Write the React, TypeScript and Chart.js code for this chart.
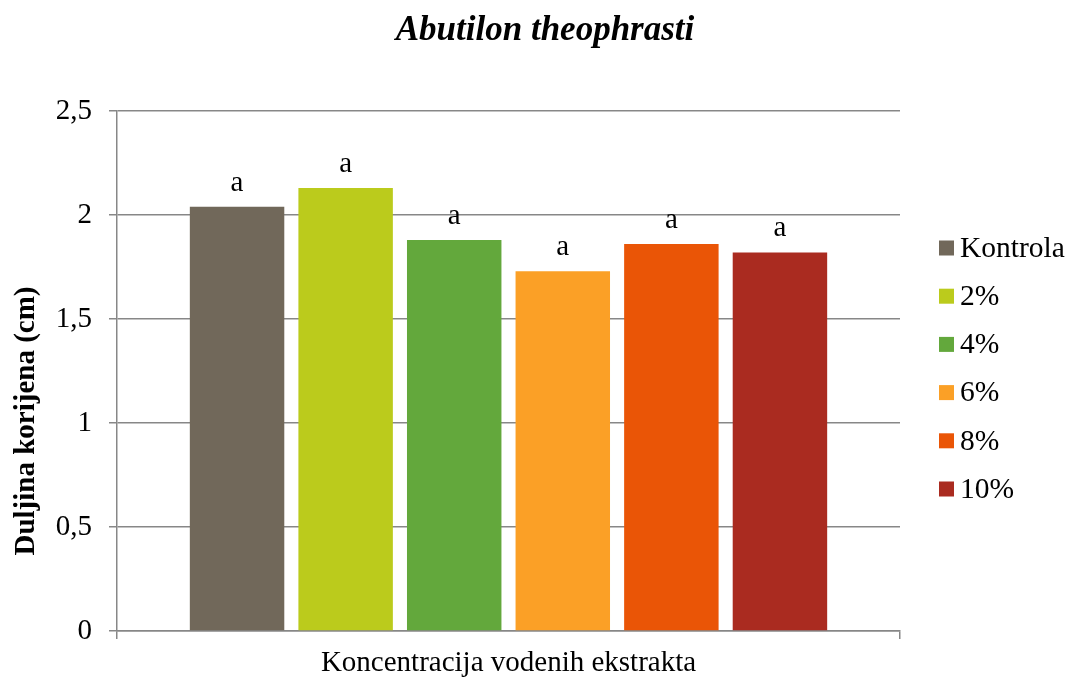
import React, { useEffect, useRef } from 'react';
import { Chart, registerables } from 'chart.js';

Chart.register(...registerables);

const categories: string[] = [''];
const seriesLabels: string[] = ['Kontrola', '2%', '4%', '6%', '8%', '10%'];
const seriesValues: number[] = [2.04, 2.13, 1.88, 1.73, 1.86, 1.82];
const seriesColors: string[] = ['#71685A', '#BBCB1C', '#63A83C', '#FBA026', '#EA5506', '#AA2B20'];
const significanceLetters: string[] = ['a', 'a', 'a', 'a', 'a', 'a'];
const yTickValues: number[] = [0, 0.5, 1, 1.5, 2, 2.5];
const yTickLabels: string[] = ['0', '0,5', '1', '1,5', '2', '2,5'];
const chartTitle = 'Abutilon theophrasti';
const yAxisTitle = 'Duljina korijena (cm)';
const xAxisTitle = 'Koncentracija vodenih ekstrakta';

const FONT = '"Liberation Serif", "Times New Roman", serif';
const GRID = '#878787';

const decorPlugin = {
  id: 'decor',
  afterDraw(chart: any) {
    const ctx = chart.ctx;
    const area = chart.chartArea;
    ctx.save();
    ctx.fillStyle = '#000';
    // title
    ctx.font = `italic bold 35px ${FONT}`;
    ctx.textAlign = 'center';
    ctx.textBaseline = 'alphabetic';
    ctx.fillText(chartTitle, 545, 40);
    // y axis title
    ctx.save();
    ctx.translate(27, 421);
    ctx.rotate(-Math.PI / 2);
    ctx.font = `bold 29px ${FONT}`;
    ctx.textAlign = 'center';
    ctx.textBaseline = 'middle';
    ctx.fillText(yAxisTitle, 0, 0);
    ctx.restore();
    // letters above bars
    ctx.font = `29px ${FONT}`;
    ctx.textAlign = 'center';
    ctx.textBaseline = 'alphabetic';
    chart.data.datasets.forEach((ds: any, i: number) => {
      const meta = chart.getDatasetMeta(i);
      const bar = meta.data[0];
      if (!bar) return;
      ctx.fillText(significanceLetters[i], bar.x, bar.y - 16);
    });
    // legend
    const step = 48.2;
    const centerY = (area.top + area.bottom) / 2 - 2.5;
    const startY = centerY - (step * (chart.data.datasets.length - 1)) / 2;
    ctx.font = `29.5px ${FONT}`;
    ctx.textAlign = 'left';
    ctx.textBaseline = 'middle';
    chart.data.datasets.forEach((ds: any, i: number) => {
      const cy = startY + i * step;
      ctx.fillStyle = ds.backgroundColor;
      ctx.fillRect(area.right + 39, cy - 7.5, 15, 15);
      ctx.fillStyle = '#000';
      ctx.fillText(ds.label, area.right + 60, cy + 1);
    });
    ctx.restore();
  },
};

export default function App() {
  const canvasRef = useRef<HTMLCanvasElement | null>(null);

  useEffect(() => {
    if (!canvasRef.current) return;
    const chart = new Chart(canvasRef.current, {
      type: 'bar',
      data: {
        labels: categories,
        datasets: seriesLabels.map((label, i) => ({
          label,
          data: [seriesValues[i]],
          backgroundColor: seriesColors[i],
          borderWidth: 0,
          categoryPercentage: 0.832,
          barPercentage: 0.87,
        })),
      },
      options: {
        animation: false,
        responsive: false,
        maintainAspectRatio: false,
        layout: { padding: { top: 111, right: 170, left: 0, bottom: 0 } },
        plugins: {
          legend: { display: false },
          title: { display: false },
          tooltip: { enabled: false },
        },
        scales: {
          x: {
            type: 'category',
            offset: true,
            grid: {
              display: true,
              offset: true,
              drawOnChartArea: false,
              drawTicks: true,
              tickLength: 8,
              color: GRID,
              lineWidth: 1.5,
            },
            border: { display: true, color: GRID, width: 1.5 },
            ticks: { display: true, font: { family: FONT, size: 2 } },
            title: {
              display: true,
              text: xAxisTitle,
              color: '#000',
              font: { family: FONT, size: 29 },
              padding: { top: 0, bottom: 0 },
            },
            afterFit(scale: any) {
              scale.height = 50;
            },
          },
          y: {
            min: 0,
            max: 2.5,
            grid: {
              color: GRID,
              lineWidth: 1.5,
              tickLength: 8,
              drawTicks: true,
            },
            border: { display: true, color: GRID, width: 1.5 },
            ticks: {
              stepSize: 0.5,
              padding: 17,
              color: '#000',
              font: { family: FONT, size: 29 },
              callback: (v: any) => {
                const idx = yTickValues.findIndex((t) => Math.abs(t - Number(v)) < 1e-9);
                return idx >= 0 ? yTickLabels[idx] : '';
              },
            },
            afterFit(scale: any) {
              scale.width = 117;
            },
          },
        },
      },
      plugins: [decorPlugin],
    });
    return () => chart.destroy();
  }, []);

  return (
    <div style={{ position: 'fixed', left: 0, top: 0, width: 1070, height: 681, background: '#fff' }}>
      <canvas ref={canvasRef} width={1070} height={681} style={{ width: 1070, height: 681 }} />
    </div>
  );
}
